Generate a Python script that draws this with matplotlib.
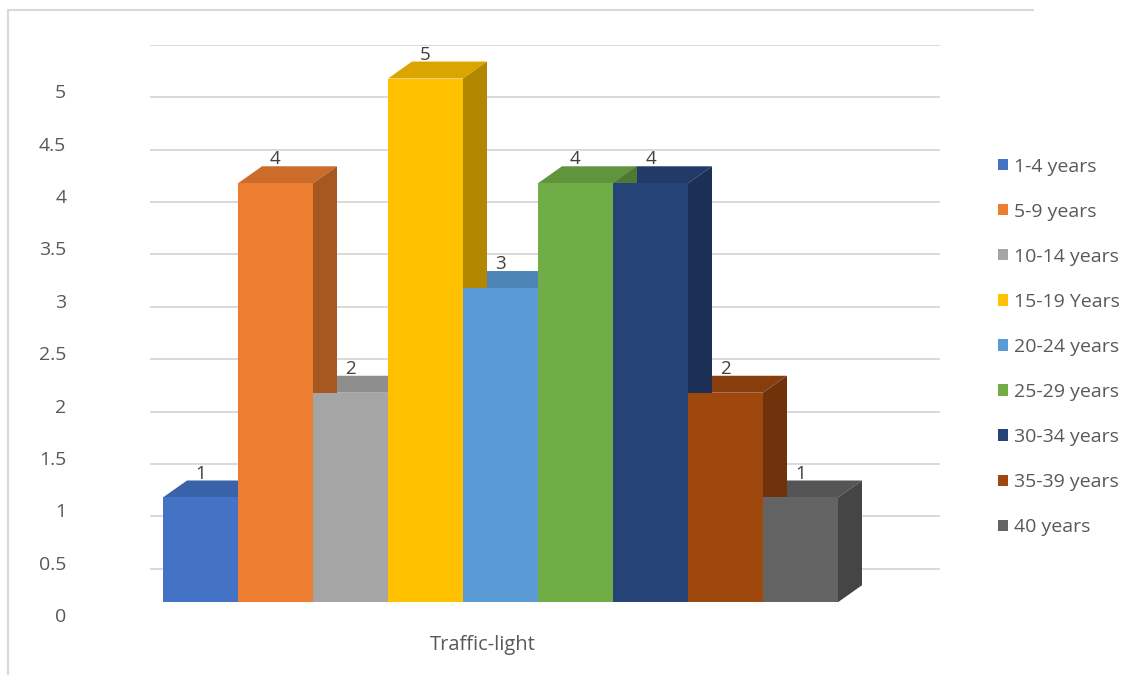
# coding: utf-8
import numpy as np
import matplotlib
matplotlib.use('Agg')
import matplotlib.pyplot as plt
from matplotlib.patches import Patch
from matplotlib.lines import Line2D
from matplotlib import transforms
from matplotlib.colors import to_rgb

# data
categories = ['1-4 years', '5-9 years', '10-14 years', '15-19 Years', '20-24 years',
              '25-29 years', '30-34 years', '35-39 years', '40 years']
values = [1, 4, 2, 5, 3, 4, 4, 2, 1]
colors = ['#4472C4', '#ED7D31', '#A5A5A5', '#FFC000', '#5B9BD5',
          '#70AD47', '#264478', '#9E480E', '#636363']
group_label = 'Traffic-light'
y_ticks = np.arange(0, 5.01, 0.5)

# look of the fake 3d columns
FLOOR = 0.18      # front face starts a bit above the wall's zero
DX, DY = 0.32, 0.162
TEXT = '#595959'

plt.rcParams['font.family'] = ['Open Sans', 'DejaVu Sans']


def shade(c, f):
    r, g, b = to_rgb(c)
    return (r * f, g * f, b * f)


def draw_chart(out_path: str) -> None:
    fig = plt.figure(figsize=(11.45, 6.75), dpi=100)
    ax = fig.add_axes([150 / 1145, 33 / 675, 790 / 1145, 597 / 675])
    ax.set_xlim(-13 / 75, 777 / 75)
    ax.set_ylim(-0.2, 5.5)
    ax.axis('off')

    # back wall gridlines
    for v in np.arange(0.5, 5.51, 0.5):
        ax.axhline(v, color='#D9D9D9', lw=1.4, zorder=1)

    x = np.arange(len(values))
    # top faces
    for xi, v, c in zip(x, values, colors):
        top = FLOOR + v
        ax.fill([xi, xi + 1, xi + 1 + DX, xi + DX], [top, top, top + DY, top + DY],
                color=shade(c, 0.86), lw=0, zorder=2)
    # side faces
    for xi, v, c in zip(x, values, colors):
        top = FLOOR + v
        ax.fill([xi + 1, xi + 1 + DX, xi + 1 + DX, xi + 1],
                [FLOOR, FLOOR + DY, top + DY, top],
                color=shade(c, 0.7), lw=0, zorder=3)
    # front faces
    ax.bar(x, values, bottom=FLOOR, width=1, align='edge', color=colors,
           lw=0, zorder=4)

    # value labels
    for xi, v in zip(x, values):
        ax.text(xi + 0.5, FLOOR + v + DY - 0.02, str(v), ha='center', va='bottom',
                fontsize=13.5, color='#404040', zorder=5)

    # y tick labels
    off = transforms.offset_copy(ax.get_yaxis_transform(), fig=fig, x=0, y=4, units='dots')
    for v in y_ticks:
        ax.text(-0.106, v, f'{v:g}', transform=off, ha='right', va='center',
                fontsize=14, color=TEXT)

    # category label
    fig.text(483 / 1145, 1 - 645 / 675, group_label, ha='center', va='center',
             fontsize=14.5, color=TEXT)

    handles = [Patch(facecolor=c, edgecolor='none') for c in colors]
    fig.legend(handles, categories, loc='upper left',
               bbox_to_anchor=(990 / 1145, 1 - 150 / 675), frameon=False,
               fontsize=14, labelcolor=TEXT, handlelength=0.5, handleheight=0.5,
               handletextpad=0.35, labelspacing=1.39, borderaxespad=0)

    # chart area border
    fig.add_artist(Line2D([8 / 1145, 8 / 1145], [0, 1 - 10 / 675],
                          transform=fig.transFigure, color='#D9D9D9', lw=1.5))
    fig.add_artist(Line2D([8 / 1145, 1033 / 1145], [1 - 10 / 675, 1 - 10 / 675],
                          transform=fig.transFigure, color='#D9D9D9', lw=1.5))

    fig.savefig(out_path, dpi=100)


if __name__ == '__main__':
    draw_chart('out.png')
